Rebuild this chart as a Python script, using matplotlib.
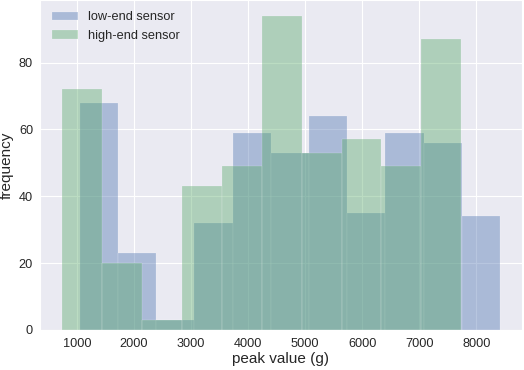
import numpy as np
import matplotlib.pyplot as plt
import seaborn as sns

# bin edges and counts
low_edges = [1048, 1718, 2388, 3058, 3728, 4398, 5068, 5738, 6408, 7078, 7748, 8418]
low_counts = [68, 23, 3, 32, 59, 53, 64, 35, 59, 56, 34]

high_edges = [734, 1435, 2135, 2836, 3536, 4237, 4937, 5638, 6338, 7039, 7740]
high_counts = [72, 20, 3, 43, 49, 94, 53, 57, 49, 87]

sns.set_style('darkgrid')
plt.rcParams['font.family'] = ['Liberation Sans', 'DejaVu Sans']
plt.rcParams['text.color'] = '.15'
plt.rcParams['axes.labelcolor'] = '.15'
plt.rcParams['xtick.color'] = '.15'
plt.rcParams['ytick.color'] = '.15'

blue = '#4C72B0'
green = '#55A868'

fig, ax = plt.subplots(figsize=(5.24, 3.7), dpi=100)
fig.subplots_adjust(left=40/524, right=522/524, bottom=1-330/370, top=1.0)

ax.hist(low_edges[:-1], bins=low_edges, weights=low_counts, color=blue,
        alpha=0.4, edgecolor='white', linewidth=0.3, label='low-end sensor')
ax.hist(high_edges[:-1], bins=high_edges, weights=high_counts, color=green,
        alpha=0.4, edgecolor='white', linewidth=0.3, label='high-end sensor')

ax.set_xticks([1000, 2000, 3000, 4000, 5000, 6000, 7000, 8000])
ax.set_yticks([0, 20, 40, 60, 80])
ax.tick_params(labelsize=9.2, length=0)
ax.tick_params(axis='x', pad=5.5)
ax.tick_params(axis='y', pad=5)
ax.set_xlabel('peak value (g)', fontsize=11, labelpad=2)
ax.set_ylabel('frequency', fontsize=11, labelpad=4)

ax.legend(loc='upper left', fontsize=9.2, frameon=False,
          handlelength=2.05, handleheight=0.62, handletextpad=0.8,
          borderaxespad=0.5)

plt.savefig('out.png')
